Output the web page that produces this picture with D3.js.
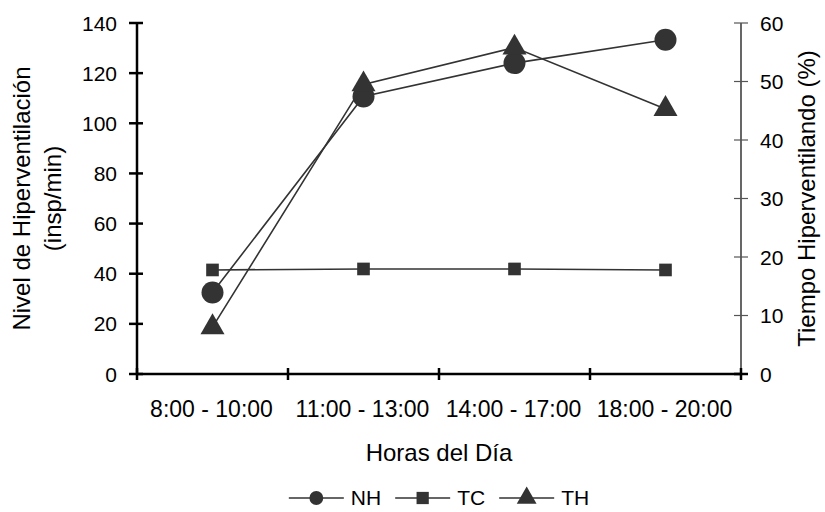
<!DOCTYPE html>
<meta charset="utf-8">
<style>
body { margin: 0; background: #fff; }
text { font-family: "Liberation Sans", Arial, sans-serif; fill: #000; }
</style>

<svg width="825" height="512"></svg>
<script src="https://cdn.jsdelivr.net/npm/d3@7"></script>

<script>
var categories = ["8:00 - 10:00", "11:00 - 13:00", "14:00 - 17:00", "18:00 - 20:00"];
// left axis (insp/min)
var nhValues = [32.5, 110.7, 124, 133.3];
var tcValues = [41.5, 41.9, 41.9, 41.5];
// right axis (%)
var thValues = [8, 49.5, 55.8, 45.3];

var leftTicks = [0, 20, 40, 60, 80, 100, 120, 140];
var rightTicks = [0, 10, 20, 30, 40, 50, 60];

var svg = d3.select("svg"),
    width = +svg.attr("width"),
    height = +svg.attr("height"),
    margin = {top: 23, right: 84, bottom: 138, left: 137};

var ink = "#333";

var x = d3.scaleBand()
    .domain(categories)
    .range([margin.left, width - margin.right]);

var y = d3.scaleLinear()
    .domain([0, 140])
    .range([height - margin.bottom, margin.top]);

var y2 = d3.scaleLinear()
    .domain([0, 60])
    .range([height - margin.bottom, margin.top]);

var cx = function(d, i) { return x(categories[i]) + x.bandwidth() / 2; };

// x axis: ticks at the band edges, crossing the line
var xAxis = svg.append("g");
xAxis.append("line")
    .attr("x1", margin.left).attr("x2", width - margin.right)
    .attr("y1", y(0)).attr("y2", y(0))
    .attr("stroke", "#000").attr("stroke-width", 2.5);
xAxis.selectAll(".xt")
  .data(categories.concat(["end"]))
  .enter().append("line")
    .attr("x1", function(d, i) { return margin.left + i * x.bandwidth(); })
    .attr("x2", function(d, i) { return margin.left + i * x.bandwidth(); })
    .attr("y1", y(0) - 6).attr("y2", y(0) + 6)
    .attr("stroke", "#000").attr("stroke-width", 2.5);
xAxis.selectAll("text")
  .data(categories)
  .enter().append("text")
    .attr("x", function(d) { return x(d) + x.bandwidth() / 2 - 1; })
    .attr("y", 417)
    .attr("text-anchor", "middle")
    .style("font-size", "23px")
    .text(function(d) { return d; });

// left axis
var yAxis = svg.append("g");
yAxis.append("line")
    .attr("x1", margin.left).attr("x2", margin.left)
    .attr("y1", y(0)).attr("y2", y(140))
    .attr("stroke", "#000").attr("stroke-width", 2.5);
yAxis.selectAll(".yt")
  .data(leftTicks)
  .enter().append("line")
    .attr("x1", margin.left - 8).attr("x2", margin.left + 6)
    .attr("y1", function(d) { return y(d); })
    .attr("y2", function(d) { return y(d); })
    .attr("stroke", "#000").attr("stroke-width", 2.5);
yAxis.selectAll("text")
  .data(leftTicks)
  .enter().append("text")
    .attr("x", margin.left - 20)
    .attr("y", function(d) { return y(d) + 7.5; })
    .attr("text-anchor", "end")
    .style("font-size", "21px")
    .text(function(d) { return d; });

// right axis
var rx = width - margin.right;
var y2Axis = svg.append("g");
y2Axis.append("line")
    .attr("x1", rx).attr("x2", rx)
    .attr("y1", y2(0)).attr("y2", y2(60))
    .attr("stroke", "#000").attr("stroke-width", 1.2);
y2Axis.selectAll(".yt")
  .data(rightTicks)
  .enter().append("line")
    .attr("x1", rx - 7).attr("x2", rx + 7)
    .attr("y1", function(d) { return y2(d); })
    .attr("y2", function(d) { return y2(d); })
    .attr("stroke", function(d) { return d === 0 ? "#000" : "#555"; })
    .attr("stroke-width", function(d) { return d === 0 ? 2.5 : 1.2; });
y2Axis.selectAll("text")
  .data(rightTicks)
  .enter().append("text")
    .attr("x", rx + 19)
    .attr("y", function(d) { return y2(d) + 7.5; })
    .attr("text-anchor", "start")
    .style("font-size", "21px")
    .text(function(d) { return d; });

// axis titles
var midY = (y(0) + y(140)) / 2;
svg.append("text")
    .attr("transform", "translate(30," + midY + ") rotate(-90)")
    .attr("text-anchor", "middle")
    .style("font-size", "24px")
    .text("Nivel de Hiperventilación");
svg.append("text")
    .attr("transform", "translate(61," + midY + ") rotate(-90)")
    .attr("text-anchor", "middle")
    .style("font-size", "24px")
    .text("(insp/min)");
svg.append("text")
    .attr("transform", "translate(815," + midY + ") rotate(-90)")
    .attr("text-anchor", "middle")
    .style("font-size", "24px")
    .text("Tiempo Hiperventilando (%)");
svg.append("text")
    .attr("x", (margin.left + width - margin.right) / 2)
    .attr("y", 461)
    .attr("text-anchor", "middle")
    .style("font-size", "24px")
    .text("Horas del Día");

// series
var series = [
  {name: "NH", values: nhValues, scale: y, shape: d3.symbolCircle, size: 380, legendSize: 150},
  {name: "TC", values: tcValues, scale: y, shape: d3.symbolSquare, size: 160, legendSize: 150},
  {name: "TH", values: thValues, scale: y2, shape: d3.symbolTriangle, size: 250, legendSize: 170}
];

series.forEach(function(s) {
  var line = d3.line()
      .x(cx)
      .y(function(d) { return s.scale(d); });

  svg.append("path")
      .datum(s.values)
      .attr("d", line)
      .attr("fill", "none")
      .attr("stroke", ink)
      .attr("stroke-width", 1.6);

  svg.append("g")
    .selectAll("path")
    .data(s.values)
    .enter().append("path")
      .attr("transform", function(d, i) { return "translate(" + cx(d, i) + "," + s.scale(d) + ")"; })
      .attr("d", d3.symbol().type(s.shape).size(s.size))
      .attr("fill", ink);
});

// legend
var legend = svg.append("g");
var lx = 0, ly = 498;
series.forEach(function(s) {
  var g = legend.append("g").attr("transform", "translate(" + lx + ",0)");
  g.append("line")
      .attr("x1", 0).attr("x2", 55)
      .attr("y1", ly).attr("y2", ly)
      .attr("stroke", ink).attr("stroke-width", 1.6);
  g.append("path")
      .attr("transform", "translate(27.5," + ly + ")")
      .attr("d", d3.symbol().type(s.shape).size(s.legendSize))
      .attr("fill", ink);
  var t = g.append("text")
      .attr("x", 62)
      .attr("y", ly + 7)
      .style("font-size", "21px")
      .text(s.name);
  lx += 62 + t.node().getComputedTextLength() + 14;
});
lx -= 14;
legend.attr("transform", "translate(" + ((margin.left + width - margin.right) / 2 - lx / 2) + ",0)");
</script>
